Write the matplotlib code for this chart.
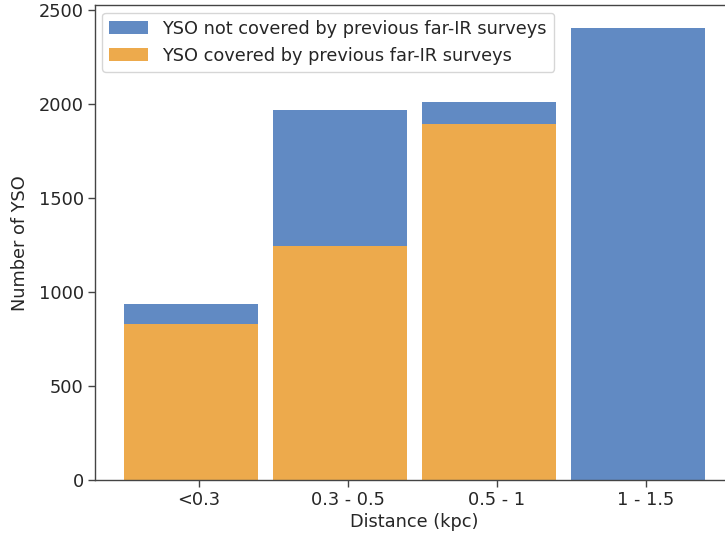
import numpy as np
import matplotlib.pyplot as plt

# distance bins and YSO counts
distances = ["<0.3", "0.3 - 0.5", "0.5 - 1", "1 - 1.5"]
covered = [832, 1244, 1894, 0]
not_covered = [105, 727, 117, 2406]

blue = "#618ac3"
orange = "#edaa4c"
text_col = "#262626"

plt.rcParams["font.family"] = "DejaVu Sans"
plt.rcParams["text.color"] = text_col
plt.rcParams["axes.labelcolor"] = text_col
plt.rcParams["xtick.color"] = text_col
plt.rcParams["ytick.color"] = text_col

fig = plt.figure(figsize=(7.25, 5.4), dpi=100)
# the reference picture is cut off on the right, so the axes reach past the edge
ax = fig.add_axes([0.131, 0.111, 0.882, 0.879])

x = np.arange(len(distances))
ax.bar(x - 0.5, not_covered, 0.9, bottom=covered, align="edge", color=blue,
       label="YSO not covered by previous far-IR surveys")
ax.bar(x - 0.5, covered, 0.9, align="edge", color=orange,
       label="YSO covered by previous far-IR surveys")

ax.set_xticks(x)
ax.set_xticklabels(distances)
ax.set_yticks([0, 500, 1000, 1500, 2000, 2500])
ax.tick_params(labelsize=12.8, length=5, width=1, color="#444444", pad=3)
ax.set_xlabel("Distance (kpc)", fontsize=12.8, labelpad=3)
ax.set_ylabel("Number of YSO", fontsize=12.8, labelpad=7)
for s in ax.spines.values():
    s.set_color("#444444")
    s.set_linewidth(1)
ax.spines["right"].set_visible(False)

ax.legend(loc="upper left", fontsize=12.8, handlelength=2.2,
          edgecolor="#cccccc", borderaxespad=0.4)

fig.savefig("out.png", dpi=100)
